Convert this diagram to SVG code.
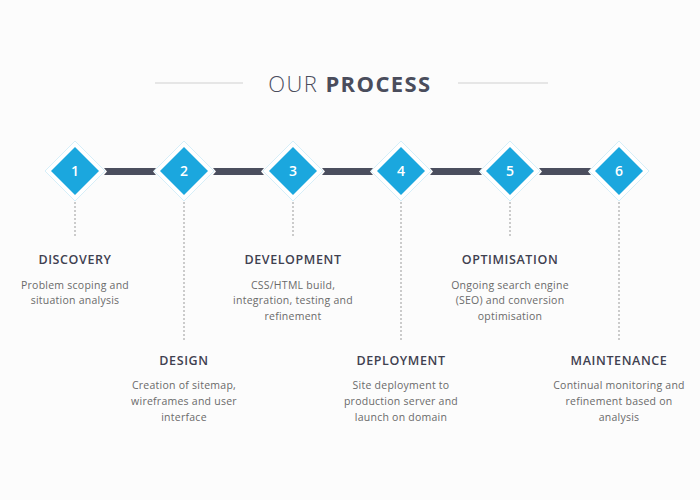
<svg xmlns="http://www.w3.org/2000/svg" width="700" height="500" viewBox="0 0 700 500">
<style>
.bg{fill:#fcfcfc}
.rule{stroke:#cfcfcf;stroke-width:1.2}
.title{font-family:"Open Sans","Liberation Sans",sans-serif;font-size:22px;fill:#4a4d5c;text-anchor:middle;letter-spacing:1.4px}
.outer{fill:#ffffff;stroke:#d6eef8;stroke-width:1}
.inner{fill:#1ba7de}
.num{font-family:"Open Sans","Liberation Sans",sans-serif;font-size:14px;font-weight:600;fill:#ffffff;text-anchor:middle}
.bar{fill:#4b4e5e}
.dot{stroke:#9a9a9a;stroke-width:1;stroke-dasharray:2 2;fill:none}
.head{font-family:"Open Sans","Liberation Sans",sans-serif;font-size:12.5px;font-weight:600;fill:#3f4150;text-anchor:middle;letter-spacing:0.6px}
.desc{font-family:"Open Sans","Liberation Sans",sans-serif;font-size:10.5px;fill:#6a6a6a;text-anchor:middle;letter-spacing:0.25px}
</style>
<defs>
<g id="dia">
<polygon class="outer" points="0,-30 30,0 0,30 -30,0"/>
<polygon class="inner" points="0,-24 24,0 0,24 -24,0"/>
</g>
</defs>
<rect class="bg" x="0" y="0" width="700" height="500"/>
<g id="title">
<line class="rule" x1="155" y1="83" x2="243" y2="83"/>
<line class="rule" x1="458" y1="83" x2="548" y2="83"/>
<text class="title" x="350" y="92"><tspan font-weight="300">OUR </tspan><tspan font-weight="700">PROCESS</tspan></text>
</g>
<g id="connectors">
<path class="bar" d="M104,168 L156,168 L153,171.5 L156,175 L104,175 L107,171.5 Z"/>
<path class="bar" d="M213,168 L264,168 L261,171.5 L264,175 L213,175 L216,171.5 Z"/>
<path class="bar" d="M322,168 L373,168 L370,171.5 L373,175 L322,175 L325,171.5 Z"/>
<path class="bar" d="M430,168 L482,168 L479,171.5 L482,175 L430,175 L433,171.5 Z"/>
<path class="bar" d="M539,168 L591,168 L588,171.5 L591,175 L539,175 L542,171.5 Z"/>
<line class="dot" x1="75" y1="198" x2="75" y2="238"/>
<line class="dot" x1="184" y1="198" x2="184" y2="340"/>
<line class="dot" x1="293" y1="198" x2="293" y2="238"/>
<line class="dot" x1="401" y1="198" x2="401" y2="340"/>
<line class="dot" x1="510" y1="198" x2="510" y2="238"/>
<line class="dot" x1="619" y1="198" x2="619" y2="340"/>
</g>
<g id="step1">
<use href="#dia" x="75" y="171"/>
<text class="num" x="75" y="176">1</text>
<text class="head" x="75" y="264">DISCOVERY</text>
<text class="desc" x="75" y="289">Problem scoping and</text>
<text class="desc" x="75" y="304">situation analysis</text>
</g>
<g id="step2">
<use href="#dia" x="184" y="171"/>
<text class="num" x="184" y="176">2</text>
<text class="head" x="184" y="365">DESIGN</text>
<text class="desc" x="184" y="389">Creation of sitemap,</text>
<text class="desc" x="184" y="405">wireframes and user</text>
<text class="desc" x="184" y="421">interface</text>
</g>
<g id="step3">
<use href="#dia" x="293" y="171"/>
<text class="num" x="293" y="176">3</text>
<text class="head" x="293" y="264">DEVELOPMENT</text>
<text class="desc" x="293" y="289">CSS/HTML build,</text>
<text class="desc" x="293" y="304">integration, testing and</text>
<text class="desc" x="293" y="320">refinement</text>
</g>
<g id="step4">
<use href="#dia" x="401" y="171"/>
<text class="num" x="401" y="176">4</text>
<text class="head" x="401" y="365">DEPLOYMENT</text>
<text class="desc" x="401" y="389">Site deployment to</text>
<text class="desc" x="401" y="405">production server and</text>
<text class="desc" x="401" y="421">launch on domain</text>
</g>
<g id="step5">
<use href="#dia" x="510" y="171"/>
<text class="num" x="510" y="176">5</text>
<text class="head" x="510" y="264">OPTIMISATION</text>
<text class="desc" x="510" y="289">Ongoing search engine</text>
<text class="desc" x="510" y="304">(SEO) and conversion</text>
<text class="desc" x="510" y="320">optimisation</text>
</g>
<g id="step6">
<use href="#dia" x="619" y="171"/>
<text class="num" x="619" y="176">6</text>
<text class="head" x="619" y="365">MAINTENANCE</text>
<text class="desc" x="619" y="389">Continual monitoring and</text>
<text class="desc" x="619" y="405">refinement based on</text>
<text class="desc" x="619" y="421">analysis</text>
</g>
</svg>
